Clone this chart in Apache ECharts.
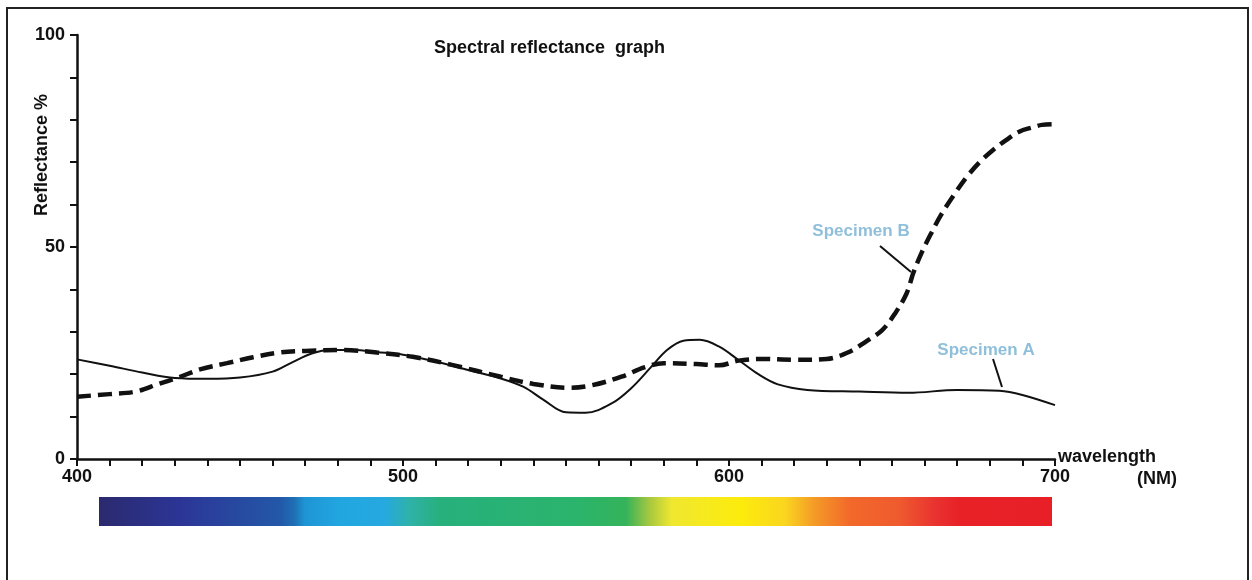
<!DOCTYPE html>
<html>
<head>
<meta charset="utf-8">
<script src="https://cdn.jsdelivr.net/npm/echarts@6/dist/echarts.min.js"></script>
<style>
html,body{margin:0;padding:0;background:#fff;}
#chart{width:1252px;height:580px;}
</style>
</head>
<body>
<div id="chart"></div>
<script>
// ---- data ----
const wavelengthA = [400,410,420,430,440,450,460,466,472,478,485,492,500,510,520,530,537,543,550,556,564,570,576,581,586,591,597,603,609,615,624,640,655,670,683,690,700];
const reflectanceA = [23.5,22.0,20.4,19.1,18.9,19.2,20.6,22.8,24.9,25.7,25.7,25.2,24.6,23.0,21.0,19.0,17.0,14.0,11.0,10.9,13.1,16.7,21.6,25.7,27.9,28.1,26.5,23.3,20.0,17.6,16.3,15.9,15.6,16.3,16.1,15.1,12.7];

const wavelengthB = [400,410,418,425,431,438,446,454,462,470,482,492,503,515,530,540,551,558,567,574,580,590,597,603,610,620,630,637,642,647,651,654.5,656.5,659,662,665,669,673,677,681,685,689,693,696,700];
const reflectanceB = [14.7,15.3,15.9,17.7,19.2,21.2,22.6,24.0,25.1,25.5,25.7,25.1,24.1,22.2,19.4,17.7,16.8,17.4,19.4,21.6,22.6,22.4,22.1,23.2,23.6,23.4,23.6,25.3,27.7,30.4,34.4,39.1,43.8,48.5,53.2,57.5,62.3,66.6,70.1,72.9,75.2,77.2,78.2,78.8,79.0];

const xTickLabels = [400, 500, 600, 700];
const yTickLabels = [0, 50, 100];
const seriesNames = ['Specimen A', 'Specimen B'];
const chartTitle = 'Spectral reflectance  graph';
const yAxisTitle = 'Reflectance %';
const xAxisTitle = ['wavelength', '(NM)'];

// spectrum colour stops (position along bar, colour)
const spectrumStops = [
  [0.0,'#2b2a6e'],[0.085,'#2c3596'],[0.19,'#2358a8'],[0.205,'#1f6fb5'],[0.216,'#1e95d5'],
  [0.253,'#22a6e0'],[0.30,'#26a9df'],[0.326,'#2fb2a8'],[0.358,'#27b07c'],[0.505,'#2bb46b'],
  [0.553,'#35b35a'],[0.578,'#a8c83f'],[0.601,'#f0e730'],[0.673,'#fcec0c'],[0.72,'#fad51f'],
  [0.751,'#f49a27'],[0.788,'#f2692a'],[0.84,'#ef5a2e'],[0.877,'#e93330'],[0.903,'#e82127'],[1.0,'#e81f27']
];

const pairsA = wavelengthA.map((w,i)=>[w, reflectanceA[i]]);
const pairsB = wavelengthB.map((w,i)=>[w, reflectanceB[i]]);

const FONT = '"Liberation Sans", Arial, Helvetica, sans-serif';
const labelBlue = '#8fbfda';

const chart = echarts.init(document.getElementById('chart'), null, {renderer:'canvas'});
chart.setOption({
  backgroundColor:'#fff',
  animation:false,
  title:{
    text: chartTitle, left: 429, top: 34,
    textStyle:{fontFamily:FONT, fontWeight:'bold', fontSize:18, color:'#111'}
  },
  grid:{left:77, right:197, top:35, bottom:121, outerBoundsMode:'none', containLabel:false},
  xAxis:{
    type:'value', min:400, max:700, interval:10,
    axisLine:{show:true, onZero:false, lineStyle:{color:'#111', width:2.5}},
    axisTick:{show:true, length:7, lineStyle:{color:'#111', width:2}},
    splitLine:{show:false},
    axisLabel:{
      show:true, margin:9, color:'#111', fontFamily:FONT, fontWeight:'bold', fontSize:18,
      formatter: v => xTickLabels.includes(v) ? String(v) : ''
    }
  },
  yAxis:{
    type:'value', min:0, max:100, interval:10,
    axisLine:{show:true, onZero:false, lineStyle:{color:'#111', width:2.5}},
    axisTick:{show:true, length:7, lineStyle:{color:'#111', width:2}},
    splitLine:{show:false},
    axisLabel:{
      show:true, margin:12, color:'#111', fontFamily:FONT, fontWeight:'bold', fontSize:18,
      formatter: v => yTickLabels.includes(v) ? String(v) : ''
    }
  },
  series:[
    {
      name: seriesNames[0], type:'line', data: pairsA, smooth:0.35,
      showSymbol:false, symbol:'none',
      lineStyle:{color:'#111', width:2},
      z:3
    },
    {
      name: seriesNames[1], type:'line', data: pairsB, smooth:0.35,
      showSymbol:false, symbol:'none',
      lineStyle:{color:'#111', width:4.5, type:[14,7], cap:'butt'},
      z:4
    }
  ],
  graphic:[
    {type:'rect', shape:{x:7, y:8, width:1241, height:600}, style:{fill:null, stroke:'#222', lineWidth:2}, silent:true},
    {type:'rect', shape:{x:99, y:497, width:953, height:29},
     style:{fill:new echarts.graphic.LinearGradient(0,0,1,0, spectrumStops.map(s=>({offset:s[0], color:s[1]})))}, silent:true},
    {type:'text', x:42, y:155, rotation:Math.PI/2,
     style:{text:yAxisTitle, fill:'#111', font:'bold 18px '+FONT, textAlign:'center', textVerticalAlign:'middle'}},
    {type:'text', x:1058, y:457,
     style:{text:xAxisTitle[0], fill:'#111', font:'bold 18px '+FONT, textAlign:'left', textVerticalAlign:'middle'}},
    {type:'text', x:1177, y:479,
     style:{text:xAxisTitle[1], fill:'#111', font:'bold 18px '+FONT, textAlign:'right', textVerticalAlign:'middle'}},
    {type:'text', x:861, y:231,
     style:{text:seriesNames[1], fill:labelBlue, font:'bold 17px '+FONT, textAlign:'center', textVerticalAlign:'middle'}},
    {type:'line', shape:{x1:880, y1:246, x2:911, y2:272}, style:{stroke:'#111', lineWidth:2}},
    {type:'text', x:986, y:350,
     style:{text:seriesNames[0], fill:labelBlue, font:'bold 17px '+FONT, textAlign:'center', textVerticalAlign:'middle'}},
    {type:'line', shape:{x1:993, y1:359, x2:1002, y2:387}, style:{stroke:'#111', lineWidth:2}}
  ]
});
</script>
</body>
</html>
